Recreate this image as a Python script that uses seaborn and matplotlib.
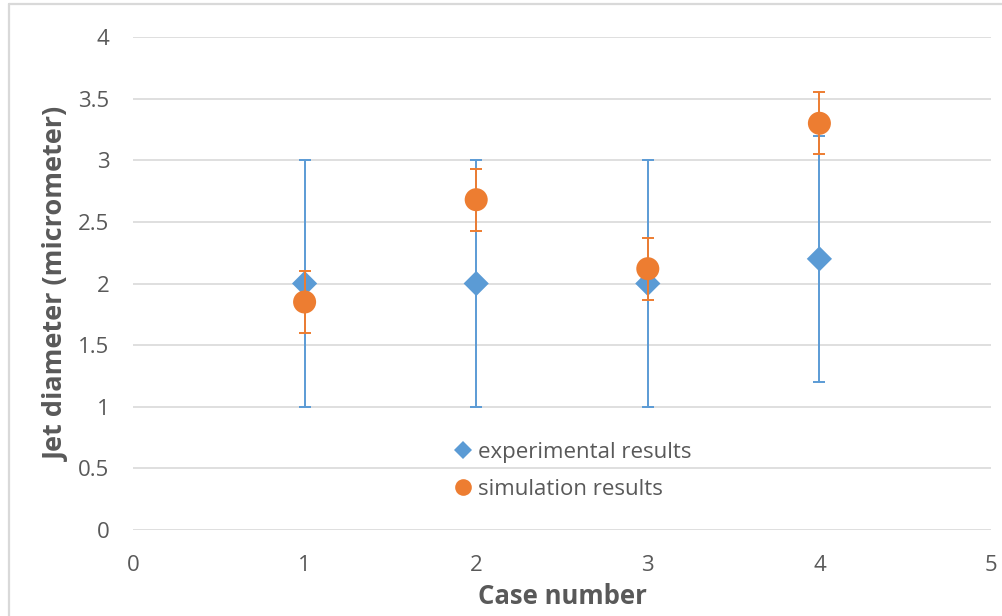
import matplotlib
matplotlib.use("Agg")
import matplotlib.pyplot as plt
import seaborn as sns
import pandas as pd
from matplotlib.lines import Line2D

# Jet diameter per case: measurements vs. simulation, with error ranges
cases = [1, 2, 3, 4]
exp_values = [2.0, 2.0, 2.0, 2.2]
exp_errors = [1.0, 1.0, 1.0, 1.0]
sim_values = [1.85, 2.68, 2.12, 3.30]
sim_errors = [0.25, 0.25, 0.25, 0.25]

x_ticks = [0, 1, 2, 3, 4, 5]
y_ticks = [0, 0.5, 1, 1.5, 2, 2.5, 3, 3.5, 4]
y_tick_labels = ["0", "0.5", "1", "1.5", "2", "2.5", "3", "3.5", "4"]

BLUE = "#5B9BD5"
ORANGE = "#ED7D31"
TEXT = "#595959"
GRID = "#D9D9D9"

sns.set_theme(style="white")
plt.rcParams["font.family"] = ["Open Sans", "DejaVu Sans"]

df_exp = pd.DataFrame({"case": cases, "diameter": exp_values})
df_sim = pd.DataFrame({"case": cases, "diameter": sim_values})

fig = plt.figure(figsize=(10.02, 6.16), dpi=100)
ax = fig.add_axes([133 / 1002, 1 - 530 / 616, (991 - 133) / 1002, (530 - 37) / 616])

# outer chart border (left and top edges)
fig.add_artist(Line2D([8.5 / 1002, 8.5 / 1002], [0, 1 - 4 / 616], transform=fig.transFigure,
                      color=GRID, lw=1.6))
fig.add_artist(Line2D([8.5 / 1002, 1], [1 - 4 / 616, 1 - 4 / 616], transform=fig.transFigure,
                      color=GRID, lw=1.6))

ax.errorbar(cases, exp_values, yerr=exp_errors, fmt="none", ecolor=BLUE,
            elinewidth=1.4, capsize=4, capthick=1.4, zorder=3)
sns.scatterplot(data=df_exp, x="case", y="diameter", marker="D", s=165, color=BLUE,
                edgecolor="none", ax=ax, zorder=4, legend=False)
ax.errorbar(cases, sim_values, yerr=sim_errors, fmt="none", ecolor=ORANGE,
            elinewidth=1.4, capsize=4, capthick=1.4, zorder=5)
sns.scatterplot(data=df_sim, x="case", y="diameter", marker="o", s=275, color=ORANGE,
                edgecolor="none", ax=ax, zorder=6, legend=False)

ax.set_xlim(0, 5)
ax.set_ylim(0, 4)
ax.set_xticks(x_ticks)
ax.set_yticks(y_ticks)
ax.set_yticklabels(y_tick_labels)
ax.yaxis.grid(True, color=GRID, lw=1.2)
ax.xaxis.grid(False)
ax.set_axisbelow(True)
for side in ["top", "right", "left", "bottom"]:
    ax.spines[side].set_visible(False)
ax.tick_params(axis="both", length=0, labelsize=16, colors=TEXT)
ax.tick_params(axis="y", pad=17)
ax.tick_params(axis="x", pad=18)

ax.set_xlabel("Case number", fontsize=18.5, fontweight="bold", color=TEXT, labelpad=5)
ax.set_ylabel("Jet diameter (micrometer)", fontsize=19.5, fontweight="bold", color=TEXT, labelpad=6)

handles = [
    Line2D([], [], marker="D", color=BLUE, linestyle="none", markersize=9, markeredgewidth=0),
    Line2D([], [], marker="o", color=ORANGE, linestyle="none", markersize=12, markeredgewidth=0),
]
leg = ax.legend(handles, ["experimental results", "simulation results"], loc="center left",
                bbox_to_anchor=(0.361, 0.12), frameon=False, fontsize=16,
                handlelength=0.8, handletextpad=0.3, labelspacing=0.72, borderpad=0)
for t in leg.get_texts():
    t.set_color(TEXT)

fig.savefig("out.png", dpi=100, facecolor="white")
